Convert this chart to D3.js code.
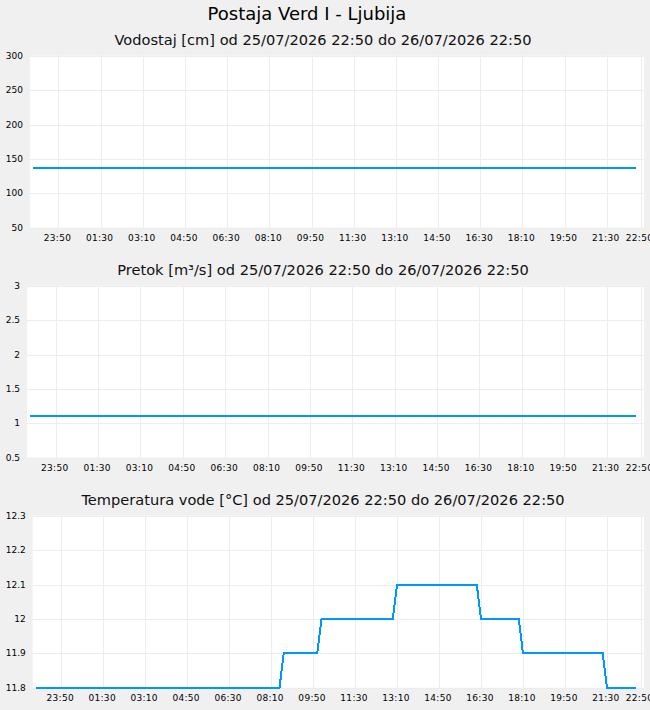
<!DOCTYPE html>
<html>
<head>
<meta charset="utf-8">
<script src="https://cdn.jsdelivr.net/npm/d3@7"></script>
<style>
  html, body { margin: 0; padding: 0; background: #f0f0f0; }
  svg { display: block; font-family: "DejaVu Sans", sans-serif; }
</style>
</head>
<body>
<svg id="chart" width="650" height="710"></svg>
<script>
// ---------- DATA ----------
const mainTitle = "Postaja Verd I - Ljubija";
const chartTitles = [
  "Vodostaj [cm] od 25/07/2026 22:50 do 26/07/2026 22:50",
  "Pretok [m³/s] od 25/07/2026 22:50 do 26/07/2026 22:50",
  "Temperatura vode [°C] od 25/07/2026 22:50 do 26/07/2026 22:50"
];
const timeStart = "2026-07-25 22:50";
const timeEnd = "2026-07-26 22:50";

const xTickTimes = [
  "2026-07-25 23:50", "2026-07-26 01:30", "2026-07-26 03:10", "2026-07-26 04:50",
  "2026-07-26 06:30", "2026-07-26 08:10", "2026-07-26 09:50", "2026-07-26 11:30",
  "2026-07-26 13:10", "2026-07-26 14:50", "2026-07-26 16:30", "2026-07-26 18:10",
  "2026-07-26 19:50", "2026-07-26 21:30", "2026-07-26 22:50"
];

// Vodostaj (water level, cm)
const levelTimes = ["2026-07-25 22:50", "2026-07-26 22:40"];
const levelValues = [137, 137];
const levelTicks = [50, 100, 150, 200, 250, 300];
const levelTickLabels = ["50", "100", "150", "200", "250", "300"];

// Pretok (flow, m3/s)
const flowTimes = ["2026-07-25 22:50", "2026-07-26 22:40"];
const flowValues = [1.1, 1.1];
const flowTicks = [0.5, 1, 1.5, 2, 2.5, 3];
const flowTickLabels = ["0.5", "1", "1.5", "2", "2.5", "3"];

// Temperatura vode (water temperature, °C)
const tempTimes = [
  "2026-07-25 22:50", "2026-07-26 08:30", "2026-07-26 08:40", "2026-07-26 10:00",
  "2026-07-26 10:10", "2026-07-26 13:00", "2026-07-26 13:10", "2026-07-26 16:20",
  "2026-07-26 16:30", "2026-07-26 18:00", "2026-07-26 18:10", "2026-07-26 21:20",
  "2026-07-26 21:30", "2026-07-26 22:40"
];
const tempValues = [
  11.8, 11.8, 11.9, 11.9,
  12.0, 12.0, 12.1, 12.1,
  12.0, 12.0, 11.9, 11.9,
  11.8, 11.8
];
const tempTicks = [11.8, 11.9, 12.0, 12.1, 12.2, 12.3];
const tempTickLabels = ["11.8", "11.9", "12", "12.1", "12.2", "12.3"];

// ---------- DRAW ----------
const parse = d3.timeParse("%Y-%m-%d %H:%M");
const fmt = d3.timeFormat("%H:%M");
const svg = d3.select("#chart");
const lineColor = "#0096ff";
const gridColor = "#ececec";

svg.append("text")
  .attr("x", 307).attr("y", 20)
  .attr("text-anchor", "middle")
  .style("font-size", "18px")
  .style("fill", "#000")
  .text(mainTitle);

const panels = [
  { times: levelTimes, values: levelValues, ticks: levelTicks, labels: levelTickLabels },
  { times: flowTimes, values: flowValues, ticks: flowTicks, labels: flowTickLabels },
  { times: tempTimes, values: tempValues, ticks: tempTicks, labels: tempTickLabels }
];

panels.forEach((p, i) => {
  const top = 55.7 + i * 230;
  const height = 172;
  const g = svg.append("g");

  // subtitle
  g.append("text")
    .attr("x", 323).attr("y", top - 11)
    .attr("text-anchor", "middle")
    .style("font-size", "14.6px")
    .style("fill", "#111")
    .text(chartTitles[i]);

  // measure y labels
  const meas = g.append("g").style("font-size", "9px");
  let maxW = 0;
  p.labels.forEach(l => {
    const t = meas.append("text").text(l);
    maxW = Math.max(maxW, t.node().getComputedTextLength());
  });
  meas.remove();

  const plotLeft = 5.7 + maxW + 7;
  const plotRight = 644;
  const xStart = plotLeft + 3.3;
  const xEnd = 640.5;

  const x = d3.scaleTime()
    .domain([parse(timeStart), parse(timeEnd)])
    .range([xStart, xEnd]);
  const y = d3.scaleLinear()
    .domain([p.ticks[0], p.ticks[p.ticks.length - 1]])
    .range([top + height, top]);

  g.append("rect")
    .attr("x", plotLeft).attr("y", top)
    .attr("width", plotRight - plotLeft).attr("height", height)
    .attr("fill", "#fff");

  // horizontal grid
  g.append("g").selectAll("line").data(p.ticks).join("line")
    .attr("x1", plotLeft).attr("x2", plotRight)
    .attr("y1", d => Math.round(y(d)) + 0.5).attr("y2", d => Math.round(y(d)) + 0.5)
    .attr("stroke", gridColor).attr("stroke-width", 1);

  // vertical grid
  const xt = xTickTimes.map(parse);
  g.append("g").selectAll("line").data(xt).join("line")
    .attr("x1", d => Math.round(x(d)) + 0.5).attr("x2", d => Math.round(x(d)) + 0.5)
    .attr("y1", top).attr("y2", top + height)
    .attr("stroke", gridColor).attr("stroke-width", 1);

  // y labels
  g.append("g").selectAll("text").data(p.ticks).join("text")
    .attr("x", plotLeft - 7)
    .attr("y", d => y(d))
    .attr("dy", "0.35em")
    .attr("text-anchor", "end")
    .style("font-size", "9px")
    .style("fill", "#000")
    .text((d, j) => p.labels[j]);

  // x labels
  g.append("g").selectAll("text").data(xt).join("text")
    .attr("x", d => x(d) - 1)
    .attr("y", top + height + 13)
    .attr("text-anchor", "middle")
    .style("font-size", "9px")
    .style("letter-spacing", "0.3px")
    .style("fill", "#000")
    .text(d => fmt(d));

  // data line
  const pts = p.times.map((t, j) => [parse(t), p.values[j]]);
  const line = d3.line().x(d => x(d[0])).y(d => y(d[1]));
  g.append("path")
    .datum(pts)
    .attr("d", line)
    .attr("fill", "none")
    .attr("stroke", lineColor)
    .attr("stroke-width", 2)
    .attr("shape-rendering", "crispEdges");
});
</script>
</body>
</html>
